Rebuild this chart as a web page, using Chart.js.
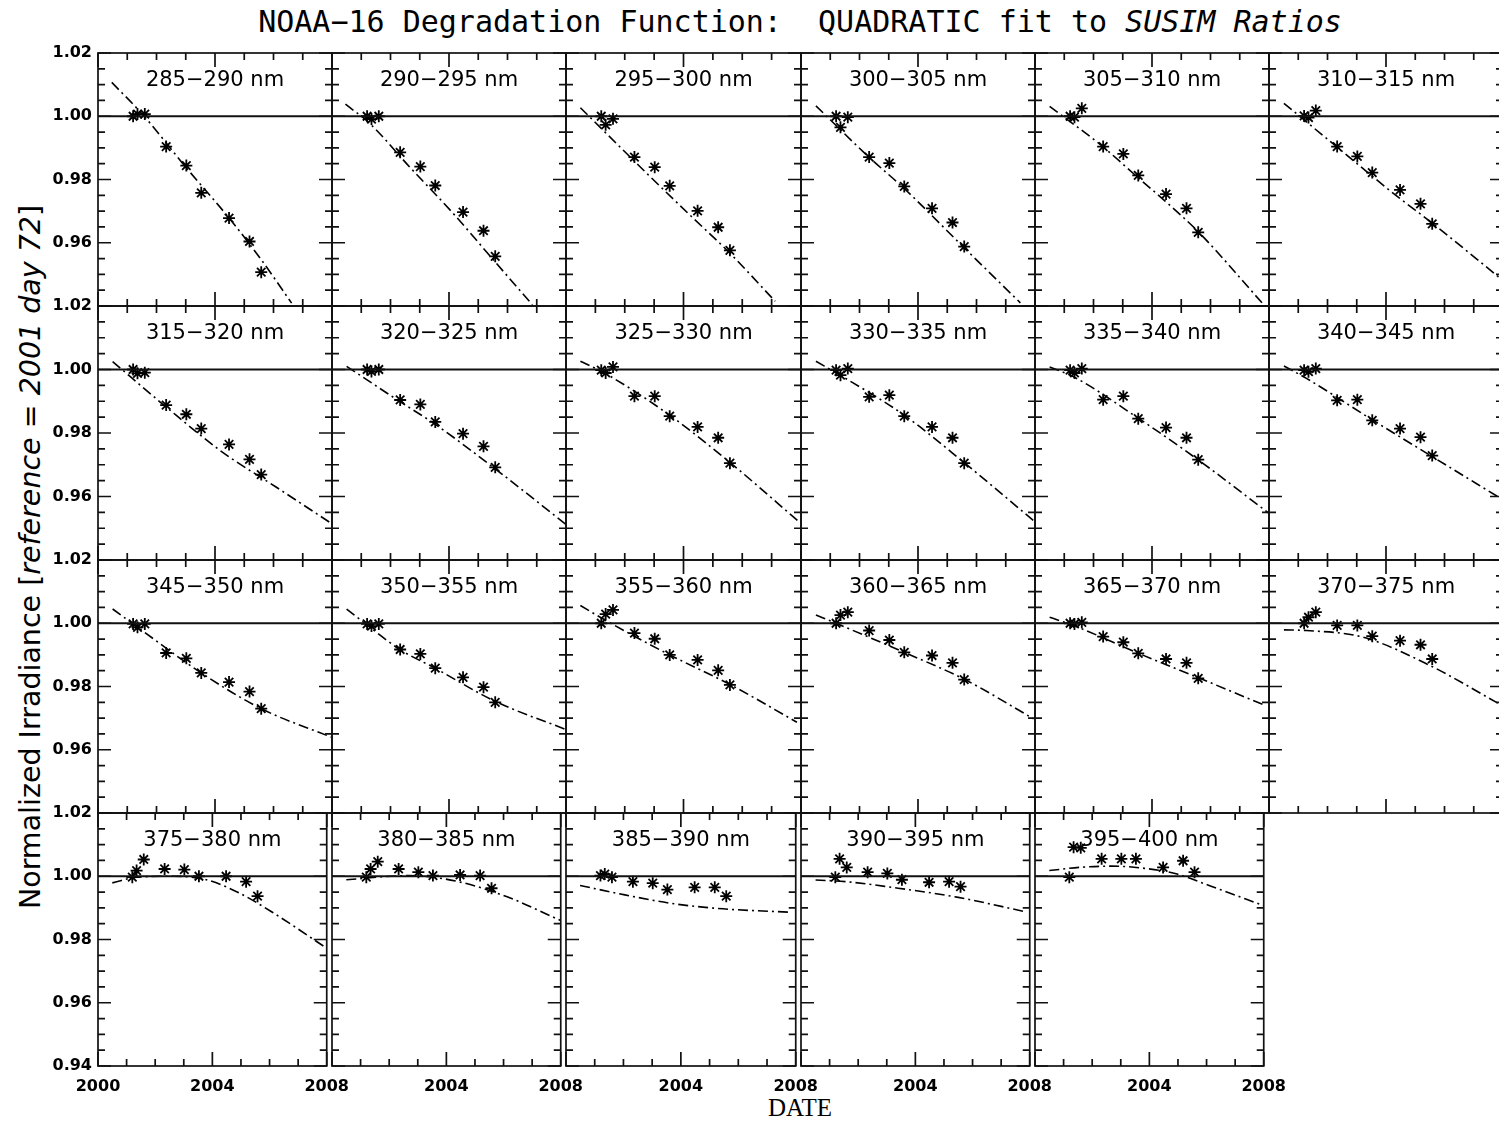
<!DOCTYPE html>
<html><head><meta charset="utf-8">
<script src="https://cdn.jsdelivr.net/npm/chart.js@4.4.1/dist/chart.umd.min.js"></script>
<style>
html,body{margin:0;padding:0;background:#fff;overflow:hidden;width:1499px;height:1121px;position:relative}
canvas{position:absolute}
.lbl{position:absolute;white-space:nowrap;color:#000;line-height:1}
#title{left:800px;top:21px;transform:translate(-50%,-50%);font:30px "DejaVu Sans Mono"}
#ylab{left:30px;top:557px;transform:translate(-50%,-50%) rotate(-90deg);font:28.5px "DejaVu Sans"}
#xlab{left:800px;top:1108px;transform:translate(-50%,-50%);font:25px "Liberation Serif"}
</style></head><body>
<div id="title" class="lbl">NOAA−16 Degradation Function:&nbsp; QUADRATIC fit to <i>SUSIM Ratios</i></div>
<div id="ylab" class="lbl">Normalized Irradiance [<i>reference = 2001 day 72</i>]</div>
<div id="xlab" class="lbl">DATE</div>
<script>
// ---- data ----
const xTickLabels = ['2000','2004','2008'];
const yTickLabels = ['0.94','0.96','0.98','1.00','1.02'];
const unityLevel = 1.0;
const bands = ['285−290 nm','290−295 nm','295−300 nm','300−305 nm','305−310 nm','310−315 nm',
  '315−320 nm','320−325 nm','325−330 nm','330−335 nm','335−340 nm','340−345 nm',
  '345−350 nm','350−355 nm','355−360 nm','360−365 nm','365−370 nm','370−375 nm',
  '375−380 nm','380−385 nm','385−390 nm','390−395 nm','395−400 nm'];
const obsDates = [2001.2, 2001.35, 2001.6, 2002.33, 2003.02, 2003.53, 2004.48, 2005.18, 2005.58];

const ratio285 = [1.000, 1.0007, 1.0007, 0.9904, 0.9844, 0.9758, 0.9678, 0.9604, 0.9507];
const ratio290 = [1.000, 0.9991, 1.000, 0.9886, 0.9841, 0.9781, 0.9697, 0.9638, 0.9557];
const ratio295 = [1.000, 0.9973, 0.9992, 0.9871, 0.9839, 0.9780, 0.9701, 0.9649, 0.9576];
const ratio300 = [1.000, 0.9965, 0.9997, 0.9871, 0.9852, 0.9778, 0.9709, 0.9664, 0.9588];
const ratio305 = [1.000, 0.9997, 1.0025, 0.9904, 0.9881, 0.9813, 0.9754, 0.9709, 0.9633];
const ratio310 = [1.0001, 0.9996, 1.0018, 0.9904, 0.9873, 0.9822, 0.9767, 0.9723, 0.9660];
const ratio315 = [1.000, 0.9988, 0.9990, 0.9888, 0.9859, 0.9814, 0.9764, 0.9717, 0.9669];
const ratio320 = [1.000, 0.9994, 1.000, 0.9904, 0.9890, 0.9835, 0.9798, 0.9758, 0.9692];
const ratio325 = [0.9998, 0.9989, 1.0008, 0.9916, 0.9916, 0.9853, 0.9819, 0.9785, 0.9705];
const ratio330 = [0.9998, 0.9982, 1.0003, 0.9914, 0.9919, 0.9853, 0.9819, 0.9785, 0.9705];
const ratio335 = [0.9998, 0.9989, 1.0003, 0.9905, 0.9916, 0.9845, 0.9817, 0.9785, 0.9716];
const ratio340 = [0.9998, 0.9993, 1.0003, 0.9903, 0.9905, 0.9840, 0.9814, 0.9787, 0.9729];
const ratio345 = [0.9998, 0.9987, 0.9998, 0.9906, 0.9889, 0.9843, 0.9814, 0.9784, 0.9730];
const ratio350 = [0.9998, 0.9991, 0.9998, 0.9917, 0.9903, 0.9858, 0.9829, 0.9798, 0.9750];
const ratio355 = [1.000, 1.0029, 1.0042, 0.9969, 0.9951, 0.9900, 0.9884, 0.9851, 0.9805];
const ratio360 = [1.000, 1.0026, 1.0035, 0.9977, 0.9947, 0.9908, 0.9898, 0.9875, 0.9822];
const ratio365 = [1.000, 0.9998, 1.0003, 0.9958, 0.9940, 0.9905, 0.9887, 0.9875, 0.9826];
const ratio370 = [1.000, 1.0019, 1.0035, 0.9993, 0.9993, 0.9959, 0.9945, 0.9932, 0.9887];
const ratio375 = [0.9997, 1.0018, 1.0053, 1.0023, 1.0021, 1.000, 1.000, 0.9983, 0.9937];
const ratio380 = [0.9997, 1.0023, 1.0046, 1.0023, 1.0013, 1.0002, 1.0004, 1.0002, 0.9962];
const ratio385 = [1.0002, 1.0007, 0.9997, 0.9983, 0.9978, 0.9958, 0.9965, 0.9965, 0.9937];
const ratio390 = [0.9997, 1.0055, 1.0028, 1.0013, 1.0009, 0.9989, 0.9981, 0.9983, 0.9967];
const ratio395 = [0.9997, 1.0092, 1.0090, 1.0055, 1.0055, 1.0055, 1.0028, 1.0049, 1.0013];

const fitX285 = [2000.47, 2001.54, 2003.01, 2004.51, 2005.60, 2006.62];
const fitY285 = [1.0107, 1.0004, 0.9838, 0.9675, 0.9544, 0.9409];
const fitX290 = [2000.46, 2001.28, 2002.69, 2004.13, 2005.46, 2006.85];
const fitY290 = [1.0038, 0.9978, 0.9836, 0.9694, 0.9552, 0.9404];
const fitX295 = [2000.49, 2002.71, 2004.27, 2005.58, 2007.12];
const fitY295 = [1.0027, 0.9823, 0.9683, 0.9567, 0.9415];
const fitX300 = [2000.51, 2002.32, 2003.51, 2005.58, 2007.50];
const fitY300 = [1.0033, 0.9871, 0.9773, 0.9584, 0.9410];
const fitX305 = [2000.50, 2002.29, 2003.51, 2004.46, 2005.60, 2007.82];
const fitY305 = [1.0031, 0.9906, 0.9807, 0.9731, 0.9633, 0.9404];
const fitX310 = [2000.51, 2002.28, 2004.35, 2005.61, 2007.85];
const fitY310 = [1.0041, 0.9906, 0.9749, 0.9660, 0.9492];
const fitX315 = [2000.50, 2002.29, 2004.25, 2006.10, 2008.00];
const fitY315 = [1.0025, 0.9885, 0.9740, 0.9629, 0.9514];
const fitX320 = [2000.50, 2002.32, 2003.52, 2005.58, 2008.00];
const fitY320 = [1.0010, 0.9899, 0.9828, 0.9687, 0.9512];
const fitX325 = [2000.49, 2001.31, 2003.53, 2005.61, 2007.95];
const fitY325 = [1.0026, 0.9989, 0.9856, 0.9705, 0.9519];
const fitX330 = [2000.51, 2001.34, 2003.53, 2005.60, 2007.95];
const fitY330 = [1.0026, 0.9982, 0.9856, 0.9705, 0.9524];
const fitX335 = [2000.50, 2001.32, 2003.51, 2005.60, 2008.00];
const fitY335 = [1.0008, 0.9977, 0.9848, 0.9714, 0.9547];
const fitX340 = [2000.51, 2001.28, 2003.52, 2005.61, 2007.85];
const fitY340 = [1.0011, 0.9972, 0.9842, 0.9724, 0.9598];
const fitX345 = [2000.50, 2001.36, 2003.53, 2005.60, 2007.97];
const fitY345 = [1.0045, 0.9987, 0.9843, 0.9729, 0.9640];
const fitX350 = [2000.50, 2001.30, 2002.32, 2003.52, 2005.58, 2008.00];
const fitY350 = [1.0045, 0.9987, 0.9917, 0.9858, 0.9753, 0.9664];
const fitX355 = [2000.49, 2001.37, 2003.53, 2005.61, 2007.86];
const fitY355 = [1.0056, 1.0008, 0.9900, 0.9805, 0.9687];
const fitX360 = [2000.51, 2001.19, 2003.53, 2005.60, 2007.95];
const fitY360 = [1.0026, 1.0000, 0.9908, 0.9822, 0.9698];
const fitX365 = [2000.50, 2001.32, 2003.51, 2005.63, 2007.87];
const fitY365 = [1.0019, 0.9993, 0.9906, 0.9826, 0.9740];
const fitX370 = [2000.51, 2001.28, 2003.21, 2005.49, 2007.85];
const fitY370 = [0.9979, 0.9977, 0.9956, 0.9867, 0.9746];
const fitX375 = [2000.50, 2001.36, 2002.63, 2003.79, 2004.94, 2006.10, 2007.94];
const fitY375 = [0.9979, 0.9997, 1.0000, 0.9989, 0.9947, 0.9886, 0.9776];
const fitX380 = [2000.50, 2002.69, 2004.42, 2006.15, 2008.00];
const fitY380 = [0.9989, 1.0002, 0.9983, 0.9934, 0.9860];
const fitX385 = [2000.49, 2002.05, 2003.76, 2005.47, 2007.86];
const fitY385 = [0.9971, 0.9941, 0.9913, 0.9897, 0.9886];
const fitX390 = [2000.51, 2001.57, 2003.17, 2005.45, 2007.84];
const fitY390 = [0.9988, 0.9983, 0.9965, 0.9934, 0.9888];
const fitX395 = [2000.50, 2001.55, 2002.69, 2003.83, 2004.97, 2006.11, 2008.00];
const fitY395 = [1.0018, 1.0028, 1.0032, 1.0025, 1.0007, 0.9970, 0.9907];

const ratios = [ratio285,ratio290,ratio295,ratio300,ratio305,ratio310,ratio315,ratio320,ratio325,ratio330,ratio335,ratio340,
  ratio345,ratio350,ratio355,ratio360,ratio365,ratio370,ratio375,ratio380,ratio385,ratio390,ratio395];
const fitXs = [fitX285,fitX290,fitX295,fitX300,fitX305,fitX310,fitX315,fitX320,fitX325,fitX330,fitX335,fitX340,
  fitX345,fitX350,fitX355,fitX360,fitX365,fitX370,fitX375,fitX380,fitX385,fitX390,fitX395];
const fitYs = [fitY285,fitY290,fitY295,fitY300,fitY305,fitY310,fitY315,fitY320,fitY325,fitY330,fitY335,fitY340,
  fitY345,fitY350,fitY355,fitY360,fitY365,fitY370,fitY375,fitY380,fitY385,fitY390,fitY395];

// ---- layout ----
const L = 70, R = 28, T = 16, B = 48;
const colEdges = [98, 332, 566, 801, 1035, 1269, 1503];
const rowEdges = [53, 306, 560, 813, 1066];
const INK = '#111';

const idlFrame = {
  id: 'idlFrame',
  afterDraw(chart, args, opts) {
    const {ctx, chartArea: a, scales: {x, y}} = chart;
    ctx.save();
    ctx.strokeStyle = INK; ctx.lineWidth = 1.7;
    ctx.strokeRect(a.left, a.top, a.right - a.left, a.bottom - a.top);
    ctx.beginPath();
    x.ticks.forEach(t => {
      const px = x.getPixelForValue(t.value);
      const len = (Math.round(t.value) % 4 === 0) ? 14 : 7;
      ctx.moveTo(px, a.bottom); ctx.lineTo(px, a.bottom - len);
      ctx.moveTo(px, a.top); ctx.lineTo(px, a.top + len);
    });
    y.ticks.forEach(t => {
      const py = y.getPixelForValue(t.value);
      const len = (Math.round(t.value * 200) % 4 === 0) ? 13 : 7;
      ctx.moveTo(a.left, py); ctx.lineTo(a.left + len, py);
      ctx.moveTo(a.right, py); ctx.lineTo(a.right - len, py);
    });
    ctx.stroke();
    ctx.fillStyle = '#000';
    ctx.font = '21px "DejaVu Sans"';
    ctx.textAlign = 'center';
    ctx.textBaseline = 'middle';
    ctx.fillText(opts.label, (a.left + a.right) / 2, a.top + 28);
    ctx.restore();
  }
};

bands.forEach((band, i) => {
  const r = Math.floor(i / 6), c = i % 6;
  const w = colEdges[c + 1] - colEdges[c], h = rowEdges[r + 1] - rowEdges[r];
  const cv = document.createElement('canvas');
  cv.width = L + w + R; cv.height = T + h + B;
  cv.style.left = (colEdges[c] - L) + 'px';
  cv.style.top = (rowEdges[r] - T) + 'px';
  document.body.appendChild(cv);
  const showX = r === 3, showY = c === 0, showLow = r === 3;
  const pts = obsDates.map((d, k) => ({x: d, y: ratios[i][k]}));
  const fit = fitXs[i].map((d, k) => ({x: d, y: fitYs[i][k]}));
  const tickFont = {family: 'DejaVu Sans', size: 16, weight: 'bold'};
  new Chart(cv, {
    type: 'scatter',
    data: {datasets: [
      {type: 'line', data: [{x: 2000, y: unityLevel}, {x: 2008, y: unityLevel}], borderColor: INK, borderWidth: 1.8, pointRadius: 0},
      {type: 'line', data: fit, borderColor: '#000', borderWidth: 1.6, borderDash: [10, 4, 2, 4], pointRadius: 0, cubicInterpolationMode: 'monotone'},
      {type: 'scatter', data: pts, pointStyle: 'star', pointRadius: 6, borderColor: '#000', backgroundColor: '#000', borderWidth: 1.8}
    ]},
    options: {
      responsive: false, animation: false, events: [],
      layout: {padding: {top: T, right: R, left: 0, bottom: 0}},
      plugins: {legend: {display: false}, tooltip: {enabled: false}, idlFrame: {label: band}},
      scales: {
        x: {type: 'linear', min: 2000, max: 2008,
          afterFit(s) { s.height = B; },
          grid: {display: false, drawTicks: false}, border: {display: false},
          ticks: {display: showX, stepSize: 1, autoSkip: false, maxRotation: 0, padding: 11,
            color: '#000', font: tickFont,
            callback: v => { const s = String(Math.round(v)); return (xTickLabels.includes(s) && !(c > 0 && s === '2000')) ? s : ''; }}},
        y: {type: 'linear', min: 0.94, max: 1.02,
          afterFit(s) { s.width = L; },
          grid: {display: false, drawTicks: false}, border: {display: false},
          ticks: {display: showY, stepSize: 0.005, autoSkip: false, padding: 6,
            color: '#000', font: tickFont,
            callback: v => { const s = v.toFixed(2); const major = Math.round(v * 200) % 4 === 0;
              if (!major || !yTickLabels.includes(s)) return ''; if (!showLow && s === '0.94') return ''; return s; }}}
      }
    },
    plugins: [idlFrame]
  });
});
</script>
</body></html>
